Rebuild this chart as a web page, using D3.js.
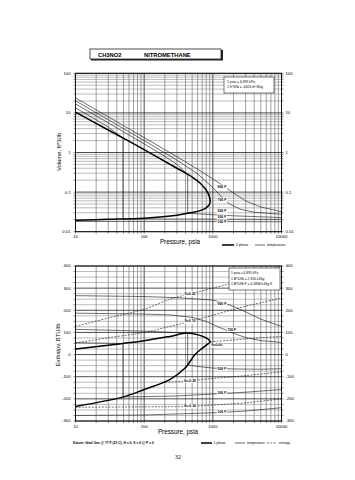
<!DOCTYPE html>
<html><head><meta charset="utf-8">
<script src="https://cdn.jsdelivr.net/npm/d3@7"></script>
<style>body{margin:0;background:#fff}svg{display:block}</style>
</head><body>
<svg id="c" width="355" height="480"></svg>
<script>
// ---------------- DATA ----------------
const pressureTicks = [10, 100, 1000, 10000];
const pressureTickLabels = ["10", "100", "1000", "10000"];
const volumeTicks = [0.01, 0.1, 1, 10, 100];
const volumeTickLabels = ["0.01", "0.1", "1", "10", "100"];
const enthalpyTicks = [-300, -200, -100, 0, 100, 200, 300, 400];

// saturation dome, volume chart
const domeP    = [10, 30, 100, 300, 500, 650, 780, 860, 900, 915];
const domeVapV = [10.5, 3.7, 1.18, 0.40, 0.24, 0.17, 0.12, 0.09, 0.072, 0.058];
const domeLiqV = [0.0195, 0.0205, 0.022, 0.026, 0.0305, 0.034, 0.039, 0.045, 0.051, 0.058];

// isotherms, volume chart
const isoLabels = ["900 F", "700 F", "500 F", "300 F", "100 F"];
const vT900P = [10, 30, 100, 300, 600, 1000, 1500, 2000, 3000, 5000, 10000];
const vT900V = [23.9, 7.95, 2.38, 0.78, 0.38, 0.215, 0.135, 0.095, 0.06, 0.042, 0.032];
const vT700P = [10, 30, 100, 300, 600, 1000, 1300, 1700, 2500, 4000, 10000];
const vT700V = [20.3, 6.7, 2.0, 0.64, 0.29, 0.13, 0.08, 0.052, 0.037, 0.031, 0.0275];
const vT500P = [10, 30, 100, 200, 300, 430, 430, 1000, 2000, 5000, 10000];
const vT500V = [16.9, 5.6, 1.65, 0.8, 0.5, 0.28, 0.0292, 0.0268, 0.0252, 0.0238, 0.0228];
const vT300P = [10, 20, 30, 49, 49, 100, 1000, 10000];
const vT300V = [13.4, 6.7, 4.4, 2.32, 0.0211, 0.0210, 0.0208, 0.0205];
const vT100P = [10, 100, 1000, 10000];
const vT100V = [0.0181, 0.0181, 0.0180, 0.0178];
const vLabelP = [1357, 1357, 1357, 1357, 1357];
const vLabelV = [0.135, 0.063, 0.033, 0.0235, 0.0176];

// saturation dome, enthalpy chart
const hDomeVapP = [10, 30, 100, 236, 417, 614, 813, 880, 915];
const hDomeVapH = [25, 42, 62, 82, 97, 89, 74, 66, 58];
const hDomeLiqP = [10, 50, 100, 236, 394, 550, 700, 813, 900, 915];
const hDomeLiqH = [-234, -191, -158, -113, -61, 0, 28, 44, 54, 58];

// isotherms, enthalpy chart
const hT900P = [10, 100, 300, 1000, 1500, 2000, 3000, 5000, 10000];
const hT900H = [266, 262, 257, 246, 232, 217, 193, 160, 127];
const hT700P = [10, 100, 236, 500, 800, 1100, 1500, 2000, 3000, 5000, 10000];
const hT700H = [187, 183, 179, 168, 150, 130, 112, 96, 77, 63, 55];
const hT500P = [10, 100, 236, 430, 430, 700, 1000, 2000, 5000, 10000];
const hT500H = [114, 106, 101, 97, -47, -56, -61, -65, -66, -64];
const hT300P = [10, 20, 30, 49, 49, 100, 300, 1000, 3000, 10000];
const hT300H = [54, 52, 51, 50, -191, -190, -187, -178, -170, -158];
const hT100P = [10, 100, 1000, 3000, 10000];
const hT100H = [-275, -273, -263, -255, -240];
const hLabelP = [1357, 1892, 1357, 1357, 1357];
const hLabelH = [229, 112, -64, -172, -258];

// isentropes, enthalpy chart
const sLabels = ["S=0.20", "S=0.10", "S=0.00", "S=-0.20", "S=-0.30"];
const hS1P = [10, 30, 100, 236, 465, 1000, 2000, 4000, 10000];
const hS1H = [127, 165, 205, 250, 274, 300, 325, 355, 400];
const hS2P = [10, 30, 100, 236, 465, 1000, 3000, 10000];
const hS2H = [52, 76, 100, 127, 149, 178, 218, 255];
const hS3P = [915, 1138, 2000, 4000, 10000];
const hS3H = [58, 60, 66, 74, 82];
const hS4P = [180, 300, 465, 1000, 3000, 10000];
const hS4H = [-125, -122, -118, -108, -95, -78];
const hS5P = [10, 100, 465, 1000, 3000, 10000];
const hS5H = [-238, -236, -234, -228, -218, -200];
const sLabelP = [465, 465, 1138, 465, 465];
const sLabelH = [274, 149, 41, -118, -234];

// ---------------- DRAWING ----------------
const svg = d3.select("#c");
const SANS = "'Liberation Sans', Arial, sans-serif";

const x = d3.scaleLog().domain([10, 10000]).range([75.5, 281.5]);
const yV = d3.scaleLog().domain([0.01, 100]).range([231.7, 73.3]);
const yH = d3.scaleLinear().domain([-300, 400]).range([421, 266]);

const minorLog = (lo, hi) => { const a = []; for (let d = lo; d < hi; d *= 10) for (let k = 1; k <= 9; k++) a.push(d * k); a.push(hi); return a; };

// title box
svg.append("rect").attr("x", 91).attr("y", 50).attr("width", 132).attr("height", 10.5).attr("fill", "#222");
svg.append("rect").attr("x", 90).attr("y", 49).attr("width", 131).attr("height", 10).attr("fill", "#fff").attr("stroke", "#222").attr("stroke-width", 0.8);
svg.append("text").attr("x", 98).attr("y", 56.6).text("CH3NO2").attr("font-family", SANS).attr("font-size", 5.8).attr("font-weight", "bold");
svg.append("text").attr("x", 144).attr("y", 56.6).text("NITROMETHANE").attr("font-family", SANS).attr("font-size", 5.8).attr("font-weight", "bold");

function frame(g, yScale, yTicksMinor, yMajor) {
  const [y0, y1] = yScale.range();
  const x0 = x.range()[0], x1 = x.range()[1];
  minorLog(10, 10000).forEach(p => {
    const major = pressureTicks.includes(p);
    g.append("line").attr("x1", x(p)).attr("x2", x(p)).attr("y1", y1).attr("y2", y0)
      .attr("stroke", major ? "#222" : "#555").attr("stroke-width", major ? 0.8 : 0.55);
    g.append("line").attr("x1", x(p)).attr("x2", x(p)).attr("y1", y0).attr("y2", y0 + 2)
      .attr("stroke", "#222").attr("stroke-width", 0.5);
  });
  yTicksMinor.forEach(v => {
    const major = yMajor.includes(v);
    g.append("line").attr("x1", x0).attr("x2", x1).attr("y1", yScale(v)).attr("y2", yScale(v))
      .attr("stroke", major ? "#222" : "#777").attr("stroke-width", major ? 0.8 : 0.5);
    g.append("line").attr("x1", x0 - 2).attr("x2", x0).attr("y1", yScale(v)).attr("y2", yScale(v)).attr("stroke", "#222").attr("stroke-width", 0.5);
    g.append("line").attr("x1", x1).attr("x2", x1 + 2).attr("y1", yScale(v)).attr("y2", yScale(v)).attr("stroke", "#222").attr("stroke-width", 0.5);
  });
  g.append("rect").attr("x", x0).attr("y", y1).attr("width", x1 - x0).attr("height", y0 - y1)
    .attr("fill", "none").attr("stroke", "#111").attr("stroke-width", 0.9);
  pressureTicks.forEach((p, i) => {
    g.append("text").attr("x", x(p)).attr("y", y0 + 6.5).attr("text-anchor", "middle")
      .attr("font-family", SANS).attr("font-size", 4.2).text(pressureTickLabels[i]);
  });
}

const line = (xs, ys, yScale) => d3.line().x(d => x(d[0])).y(d => yScale(d[1])).curve(d3.curveLinear)(xs.map((p, i) => [p, ys[i]]));
const smooth = (xs, ys, yScale) => d3.line().x(d => x(d[0])).y(d => yScale(d[1])).curve(d3.curveCatmullRom.alpha(0.5))(xs.map((p, i) => [p, ys[i]]));

function label(g, px, py, txt, size) {
  const t = g.append("text").attr("x", px).attr("y", py).attr("text-anchor", "middle").attr("dominant-baseline", "middle")
    .attr("font-family", SANS).attr("font-size", size || 3.4).attr("font-weight", "bold").text(txt);
  const b = t.node().getBBox();
  g.insert("rect", () => t.node()).attr("x", b.x - 0.8).attr("y", b.y - 0.3).attr("width", b.width + 1.6).attr("height", b.height + 0.6).attr("fill", "#fff");
}

// ---------- top chart ----------
const gT = svg.append("g");
frame(gT, yV, minorLog(0.01, 100), volumeTicks);
volumeTicks.forEach((v, i) => {
  gT.append("text").attr("x", 70.5).attr("y", yV(v) + 1.4).attr("text-anchor", "end").attr("font-family", SANS).attr("font-size", 4.2).text(volumeTickLabels[i]);
  gT.append("text").attr("x", 285.5).attr("y", yV(v) + 1.4).attr("font-family", SANS).attr("font-size", 4.2).text(volumeTickLabels[i]);
});
gT.append("text").attr("transform", "translate(61,152) rotate(-90)").attr("text-anchor", "middle")
  .attr("font-family", SANS).attr("font-size", 5.8).text("Volume, ft^3/lb");
gT.append("text").attr("x", 180).attr("y", 244).attr("text-anchor", "middle").attr("font-family", SANS).attr("font-size", 6.3).text("Pressure,  psia");

const vIso = [[vT900P, vT900V], [vT700P, vT700V], [vT500P, vT500V], [vT300P, vT300V], [vT100P, vT100V]];
vIso.forEach(([P, V]) => gT.append("path").attr("d", line(P, V, yV)).attr("fill", "none").attr("stroke", "#111").attr("stroke-width", 0.6));
const domeAllP = domeP.concat(domeP.slice().reverse().slice(1));
const domeAllV = domeVapV.concat(domeLiqV.slice().reverse().slice(1));
gT.append("path").attr("d", smooth(domeAllP, domeAllV, yV)).attr("fill", "none").attr("stroke", "#000").attr("stroke-width", 1.5);
isoLabels.forEach((t, i) => label(gT, x(vLabelP[i]), yV(vLabelV[i]), t));

gT.append("rect").attr("x", 224).attr("y", 77).attr("width", 50).attr("height", 16).attr("fill", "#fff").attr("stroke", "#222").attr("stroke-width", 0.6);
["1 psia  =  6.895 kPa", "1 ft^3/lb  =  .0624 m^3/kg"].forEach((s, i) =>
  gT.append("text").attr("x", 227).attr("y", 83 + i * 5.2).attr("font-family", SANS).attr("font-size", 3.4).text(s));

gT.append("line").attr("x1", 222).attr("x2", 234).attr("y1", 245).attr("y2", 245).attr("stroke", "#000").attr("stroke-width", 1.5);
gT.append("text").attr("x", 236).attr("y", 246.3).attr("font-family", SANS).attr("font-size", 3.4).text("2-phase");
gT.append("line").attr("x1", 255).attr("x2", 265).attr("y1", 245).attr("y2", 245).attr("stroke", "#000").attr("stroke-width", 0.6);
gT.append("text").attr("x", 267).attr("y", 246.3).attr("font-family", SANS).attr("font-size", 3.4).text("temperature");

// ---------- bottom chart ----------
const gB = svg.append("g");
frame(gB, yH, d3.range(-300, 401, 25), enthalpyTicks);
enthalpyTicks.forEach(v => {
  gB.append("text").attr("x", 70.5).attr("y", yH(v) + 1.4).attr("text-anchor", "end").attr("font-family", SANS).attr("font-size", 4.2).text(v);
  gB.append("text").attr("x", 285.5).attr("y", yH(v) + 1.4).attr("font-family", SANS).attr("font-size", 4.2).text(v);
});
gB.append("text").attr("transform", "translate(60,345) rotate(-90)").attr("text-anchor", "middle")
  .attr("font-family", SANS).attr("font-size", 5.8).text("Enthalpy, BTU/lb");
gB.append("text").attr("x", 178).attr("y", 434).attr("text-anchor", "middle").attr("font-family", SANS).attr("font-size", 6.3).text("Pressure,  psia");

const sLines = [[hS1P, hS1H], [hS2P, hS2H], [hS3P, hS3H], [hS4P, hS4H], [hS5P, hS5H]];
sLines.forEach(([P, Hh]) => gB.append("path").attr("d", smooth(P, Hh, yH)).attr("fill", "none").attr("stroke", "#111").attr("stroke-width", 0.6).attr("stroke-dasharray", "2,1.3"));
const hIso = [[hT900P, hT900H], [hT700P, hT700H], [hT500P, hT500H], [hT300P, hT300H], [hT100P, hT100H]];
hIso.forEach(([P, Hh]) => gB.append("path").attr("d", line(P, Hh, yH)).attr("fill", "none").attr("stroke", "#111").attr("stroke-width", 0.6));
const hDomeAllP = hDomeVapP.concat(hDomeLiqP.slice().reverse().slice(1));
const hDomeAllH = hDomeVapH.concat(hDomeLiqH.slice().reverse().slice(1));
gB.append("path").attr("d", smooth(hDomeAllP, hDomeAllH, yH)).attr("fill", "none").attr("stroke", "#000").attr("stroke-width", 1.5);
isoLabels.forEach((t, i) => label(gB, x(hLabelP[i]), yH(hLabelH[i]), t));
sLabels.forEach((t, i) => label(gB, x(sLabelP[i]), yH(sLabelH[i]), t));

gB.append("rect").attr("x", 229).attr("y", 268).attr("width", 51).attr("height", 22).attr("fill", "#fff").attr("stroke", "#222").attr("stroke-width", 0.6);
["1 psia  =  6.895 kPa", "1 BTU/lb  =  2.326 kJ/kg", "1 BTU/lb F  =  4.1868 kJ/kg K"].forEach((s, i) =>
  gB.append("text").attr("x", 231).attr("y", 274 + i * 5.5).attr("font-family", SANS).attr("font-size", 3.3).text(s));

gB.append("line").attr("x1", 201).attr("x2", 212).attr("y1", 443).attr("y2", 443).attr("stroke", "#000").attr("stroke-width", 1.5);
gB.append("text").attr("x", 213.5).attr("y", 444.2).attr("font-family", SANS).attr("font-size", 3.3).text("2-phase");
gB.append("line").attr("x1", 235).attr("x2", 245).attr("y1", 443).attr("y2", 443).attr("stroke", "#000").attr("stroke-width", 0.6);
gB.append("text").attr("x", 247).attr("y", 444.2).attr("font-family", SANS).attr("font-size", 3.3).text("temperature");
gB.append("line").attr("x1", 267).attr("x2", 277).attr("y1", 443).attr("y2", 443).attr("stroke", "#000").attr("stroke-width", 0.6).attr("stroke-dasharray", "2,1.3");
gB.append("text").attr("x", 279).attr("y", 444.2).attr("font-family", SANS).attr("font-size", 3.3).text("entropy");
gB.append("text").attr("x", 73).attr("y", 444.2).attr("font-family", SANS).attr("font-size", 3.3).attr("font-weight", "bold")
  .text("Datum: Ideal Gas @ 77 F (25 C), H = 0, S = 0 @ P = 0");

svg.append("text").attr("x", 178).attr("y", 459).attr("text-anchor", "middle").attr("font-family", "'Liberation Serif', serif").attr("font-size", 6).text("32");
</script>
</body></html>
